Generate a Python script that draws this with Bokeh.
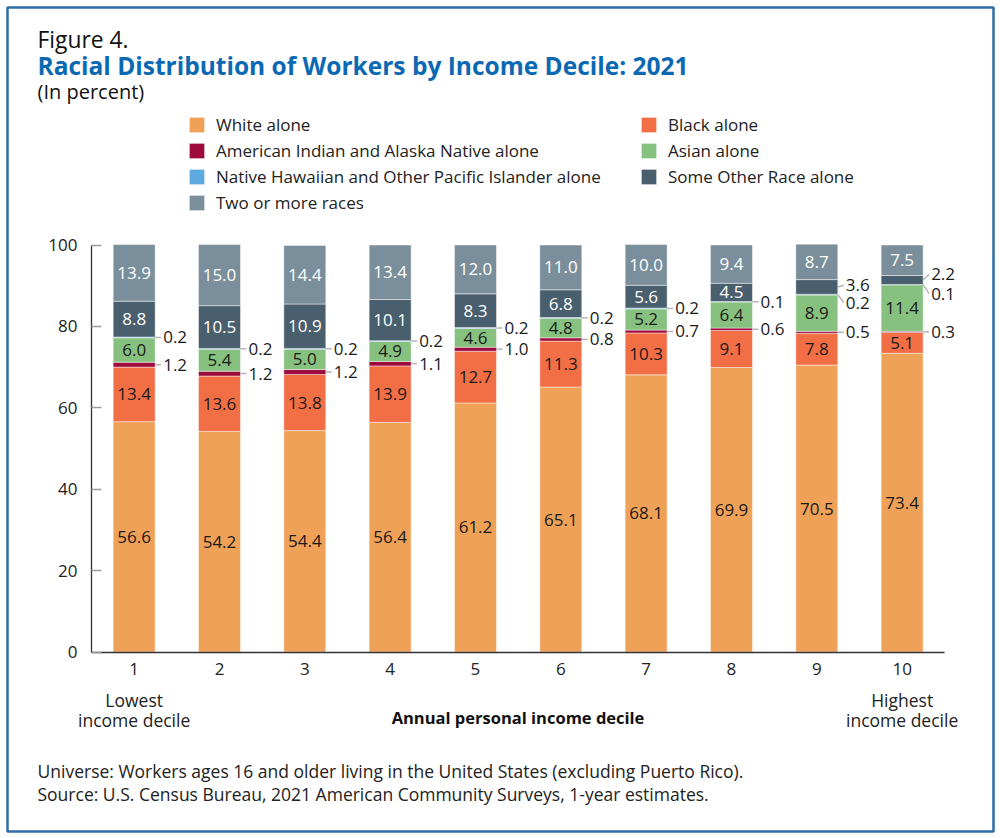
from bokeh.plotting import figure
from bokeh.models import (Range1d, ColumnDataSource, LabelSet, Label, Legend, LegendItem,
                          FixedTicker, PolyAnnotation)
from bokeh.core.properties import value
from bokeh.embed import file_html
from bokeh.resources import INLINE

# ---------------- data ----------------
deciles = [1, 2, 3, 4, 5, 6, 7, 8, 9, 10]
tick_labels = ["1", "2", "3", "4", "5", "6", "7", "8", "9", "10"]
y_ticks = [0, 20, 40, 60, 80, 100]

white = [56.6, 54.2, 54.4, 56.4, 61.2, 65.1, 68.1, 69.9, 70.5, 73.4]
black = [13.4, 13.6, 13.8, 13.9, 12.7, 11.3, 10.3, 9.1, 7.8, 5.1]
aian = [1.2, 1.2, 1.2, 1.1, 1.0, 0.8, 0.7, 0.6, 0.5, 0.3]
asian = [6.0, 5.4, 5.0, 4.9, 4.6, 4.8, 5.2, 6.4, 8.9, 11.4]
nhpi = [0.2, 0.2, 0.2, 0.2, 0.2, 0.2, 0.2, 0.1, 0.2, 0.1]
other = [8.8, 10.5, 10.9, 10.1, 8.3, 6.8, 5.6, 4.5, 3.6, 2.2]
two_plus = [13.9, 15.0, 14.4, 13.4, 12.0, 11.0, 10.0, 9.4, 8.7, 7.5]

categories = ["White alone", "Black alone", "American Indian and Alaska Native alone",
              "Asian alone", "Native Hawaiian and Other Pacific Islander alone",
              "Some Other Race alone", "Two or more races"]
series = [white, black, aian, asian, nhpi, other, two_plus]

# ---------------- style ----------------
colors = ["#EFA157", "#F26F46", "#9C0B3B", "#87C17F", "#5DA9E0", "#4A5F6E", "#7A8F9B"]
light_text = [False, False, False, False, False, True, True]
FONT = "Open Sans"
TITLE_BLUE = "#0B69B3"
BORDER_BLUE = "#2F6CA6"

W, H = 1000, 838
X0, Y0 = 91.0, 651.5          # pixel position of (0.5, 0)
PX_X = 85.33                  # px per decile
PX_Y = 4.07                   # px per percentage point


def dx(X):
    return 0.5 + (X - X0) / PX_X


def dy(Y):
    return (Y0 - Y) / PX_Y


p = figure(width=W, height=H, output_backend="svg", toolbar_location=None, title=None,
           x_range=Range1d(dx(0), dx(W)), y_range=Range1d(dy(H), dy(0)),
           min_border=0, min_border_left=0, min_border_right=0,
           min_border_top=0, min_border_bottom=0,
           background_fill_color="white", border_fill_color="white")
p.outline_line_color = None
p.grid.visible = False

src = ColumnDataSource(dict(x=deciles, **{c: s for c, s in zip(categories, series)}))
renderers = p.vbar_stack(categories, x="x", width=42 / PX_X, color=colors, source=src,
                         line_color="white", line_alpha=0.45, line_width=1)

# ---------------- axes ----------------
p.yaxis.ticker = FixedTicker(ticks=y_ticks)
p.xaxis.ticker = FixedTicker(ticks=deciles)
p.xaxis.major_label_overrides = {d: t for d, t in zip(deciles, tick_labels)}
p.xaxis.fixed_location = 0
p.yaxis.fixed_location = 0.5
p.xaxis.bounds = (0.5, 10.5)
p.yaxis.bounds = (0, 100)
for ax in (p.xaxis, p.yaxis):
    ax.axis_line_color = "#333333"
    ax.axis_line_width = 1.3
    ax.minor_tick_line_color = None
    ax.major_label_text_font = FONT
    ax.major_label_text_font_size = "17px"
    ax.major_label_text_color = "#222222"
p.yaxis.major_tick_in = 10
p.yaxis.major_tick_out = 0
p.yaxis.major_tick_line_color = "#9a9a9a"
p.yaxis.major_tick_line_width = 1.5
p.yaxis.major_label_standoff = 14
p.xaxis.major_tick_line_color = None
p.xaxis.major_tick_in = 0
p.xaxis.major_tick_out = 0
p.xaxis.major_label_standoff = 11
p.xaxis.axis_label = "Annual personal income decile"
p.xaxis.axis_label_text_font = FONT
p.xaxis.axis_label_text_font_size = "16.5px"
p.xaxis.axis_label_text_font_style = "bold"
p.xaxis.axis_label_text_color = "#111111"
p.xaxis.axis_label_standoff = 27

# ---------------- value labels ----------------
HALF = 21 / PX_X
nudge = {(9, 5): 0.4, (9, 4): -2.0, (10, 5): 1.4, (10, 4): -2.2}

in_dark = dict(x=[], y=[], t=[])
in_light = dict(x=[], y=[], t=[])
out = dict(x=[], y=[], t=[])
lead = dict(x0=[], y0=[], x1=[], y1=[])
for i, d in enumerate(deciles):
    base = 0.0
    for k, s in enumerate(series):
        v = s[i]
        mid = base + v / 2.0
        outside = k in (2, 4) or (k == 5 and v < 4)
        if outside:
            ly = mid + nudge.get((d, k), 0.0)
            out["x"].append(d + HALF)
            out["y"].append(ly)
            out["t"].append(f"{v:.1f}")
            lead["x0"].append(d + HALF)
            lead["y0"].append(mid)
            lead["x1"].append(d + HALF + 6.0 / PX_X)
            lead["y1"].append(ly)
        else:
            tgt = in_light if light_text[k] else in_dark
            tgt["x"].append(d)
            tgt["y"].append(mid)
            tgt["t"].append(f"{v:.1f}")
        base += v

p.segment("x0", "y0", "x1", "y1", source=ColumnDataSource(lead),
          line_color="#b5b5b5", line_width=1.5)

for dsrc, col in ((in_dark, "#1a1a1a"), (in_light, "#ffffff")):
    p.add_layout(LabelSet(x="x", y="y", text="t", source=ColumnDataSource(dsrc),
                          text_align="center", text_baseline="middle",
                          text_font=value(FONT), text_font_size=value("17px"),
                          text_color=value(col)))
p.add_layout(LabelSet(x="x", y="y", text="t", source=ColumnDataSource(out),
                      x_offset=8, text_align="left", text_baseline="middle",
                      text_font=value(FONT), text_font_size=value("17px"),
                      text_color=value("#1a1a1a")))


# ---------------- legend ----------------
ROW = 26


def make_legend(idx, X, Ytop):
    hgt = len(idx) * ROW
    lg = Legend(items=[LegendItem(label=categories[k], renderers=[renderers[k]]) for k in idx],
                location=(X, H - (Ytop + hgt)), orientation="vertical",
                glyph_width=19, glyph_height=19, label_standoff=10, label_height=ROW,
                spacing=0, padding=0, margin=0, border_line_color=None,
                background_fill_alpha=0, label_text_font=FONT,
                label_text_font_size="17px", label_text_color="#222222")
    p.add_layout(lg)


make_legend([0, 2, 4, 6], 187, 124.5 - ROW / 2)
make_legend([1, 3, 5], 639, 124.5 - ROW / 2)


# ---------------- texts ----------------
def add_text(txt, X, Y, size="17.5px", style="normal", color="#222222", align="left",
             xdata=None):
    lab = Label(x=dx(X) if xdata is None else xdata, y=dy(Y), text=txt,
                text_font=FONT, text_font_size=size, text_font_style=style,
                text_color=color, text_align=align, text_baseline="middle")
    p.add_layout(lab)


add_text("Figure 4.", 37, 38.5, size="22.8px", color="#111111")
add_text("Racial Distribution of Workers by Income Decile: 2021", 37, 65, size="24.5px",
         style="bold", color=TITLE_BLUE)
add_text("(In percent)", 37, 91, size="20px", color="#111111")

add_text("Lowest", 0, 699, align="center", xdata=deciles[0])
add_text("income decile", 0, 719, align="center", xdata=deciles[0])
add_text("Highest", 0, 699, align="center", xdata=deciles[-1])
add_text("income decile", 0, 719, align="center", xdata=deciles[-1])

add_text("Universe: Workers ages 16 and older living in the United States (excluding Puerto Rico).",
         37, 770)
add_text("Source: U.S. Census Bureau, 2021 American Community Surveys, 1-year estimates.",
         37, 793)

# ---------------- frame border ----------------
bx = [dx(7), dx(993), dx(993), dx(7)]
by = [dy(7), dy(7), dy(831), dy(831)]
p.add_layout(PolyAnnotation(xs=bx, ys=by, fill_alpha=0, line_color=BORDER_BLUE,
                            line_alpha=1.0, line_width=2.5))

open("out.html", "w").write(file_html(p, INLINE))
